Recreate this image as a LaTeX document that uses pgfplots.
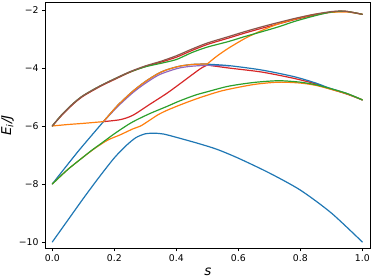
\documentclass[border=0pt]{standalone}
\usepackage{fontspec}
\setmainfont{DejaVu Sans}
\usepackage{pgfplots}
\pgfplotsset{compat=1.18}
\definecolor{C0}{HTML}{1F77B4}
\definecolor{C1}{HTML}{FF7F0E}
\definecolor{C2}{HTML}{2CA02C}
\definecolor{C3}{HTML}{D62728}
\definecolor{C4}{HTML}{9467BD}
\definecolor{C5}{HTML}{8C564B}
\begin{document}
\begin{tikzpicture}
\begin{axis}[
  scale only axis, width=325.7bp, height=245.6bp,
  xmin=-0.0235, xmax=1.027, ymin=-10.217, ymax=-1.75,
  axis line style={line width=0.8bp},
  tick style={black, line width=0.8bp}, tick align=outside, major tick length=3bp,
  xtick pos=bottom, ytick pos=left,
  xtick={0,0.2,0.4,0.6,0.8,1.0}, xticklabels={0.0,0.2,0.4,0.6,0.8,1.0},
  ytick={-10,-8,-6,-4,-2}, yticklabels={−10,−8,−6,−4,−2},
  ticklabel style={font=\fontsize{9.3bp}{11bp}\selectfont},
  xlabel={\textit{s}}, ylabel={\textit{E}\textsubscript{\textit{i}}\textit{/J}},
  xlabel style={at={(axis description cs:0.5,-0.095)}, anchor=center, font=\fontsize{13.5bp}{15bp}\selectfont},
  ylabel style={at={(axis description cs:-0.115,0.5)}, anchor=center, font=\fontsize{13.5bp}{15bp}\selectfont},
  every axis plot/.append style={line width=1.2bp, line join=round, line cap=round, smooth, tension=0.45},
]
% red top (under brown)
\addplot[C3] coordinates {(0,-6) (0.03,-5.64) (0.068,-5.24) (0.1,-4.97) (0.154,-4.64) (0.2,-4.40) (0.25,-4.15) (0.3,-3.95) (0.35,-3.80) (0.4,-3.63) (0.45,-3.40) (0.5,-3.19) (0.568,-2.97) (0.62,-2.80) (0.676,-2.63) (0.73,-2.48) (0.783,-2.33) (0.84,-2.19) (0.89,-2.09) (0.92,-2.05) (0.95,-2.05) (1,-2.15)};
% red middle
\addplot[C3] coordinates {(0.165,-5.85) (0.22,-5.78) (0.26,-5.63) (0.315,-5.25) (0.37,-4.87) (0.42,-4.48) (0.477,-4.03) (0.5,-3.9)};
\addplot[C3] coordinates {(0.5,-3.9) (0.568,-4.0) (0.675,-4.14) (0.78,-4.36) (0.85,-4.55) (0.89,-4.70) (0.95,-4.9) (1,-5.1)};
% purple
\addplot[C4] coordinates {(0.165,-5.85) (0.21,-5.34) (0.26,-4.85) (0.3,-4.53) (0.34,-4.26) (0.37,-4.13) (0.41,-4.0) (0.45,-3.94) (0.5,-3.91) (0.57,-3.93)};
% blue lower
\addplot[C0] coordinates {(0,-10) (0.05,-9.25) (0.1,-8.5) (0.15,-7.78) (0.2,-7.1) (0.24,-6.66) (0.27,-6.40) (0.3,-6.27) (0.33,-6.25) (0.36,-6.28) (0.41,-6.42) (0.47,-6.6) (0.53,-6.8) (0.6,-7.11) (0.7,-7.62) (0.8,-8.21) (0.9,-9.0) (1,-10)};
% blue upper
\addplot[C0] coordinates {(0,-8) (0.083,-6.88) (0.165,-5.85)};
\addplot[C0] coordinates {(0.165,-5.85) (0.21,-5.3) (0.26,-4.8) (0.3,-4.47) (0.34,-4.2) (0.37,-4.06) (0.41,-3.94) (0.45,-3.88) (0.5,-3.86)};
\addplot[C0] coordinates {(0.5,-3.87) (0.57,-3.92) (0.675,-4.07) (0.78,-4.30) (0.85,-4.52) (0.89,-4.68) (0.95,-4.88) (1,-5.1)};
% orange upper
\addplot[C1] coordinates {(0,-6) (0.05,-5.95) (0.1,-5.91) (0.165,-5.85)};
\addplot[C1] coordinates {(0.165,-5.85) (0.21,-5.3) (0.26,-4.8) (0.3,-4.47) (0.34,-4.2) (0.37,-4.06) (0.41,-3.94) (0.45,-3.88) (0.5,-3.86)};
\addplot[C1] coordinates {(0.5,-3.86) (0.53,-3.6) (0.568,-3.32) (0.622,-2.98) (0.675,-2.71) (0.729,-2.48) (0.783,-2.31) (0.837,-2.17) (0.89,-2.09) (0.95,-2.07) (1,-2.15)};
% orange lower
\addplot[C1] coordinates {(0,-8) (0.05,-7.5) (0.1,-7.07) (0.14,-6.75) (0.18,-6.48) (0.218,-6.31) (0.26,-6.1) (0.285,-6.0) (0.31,-5.83) (0.34,-5.62) (0.37,-5.46) (0.423,-5.23) (0.477,-5.02) (0.55,-4.78) (0.65,-4.57) (0.73,-4.49) (0.8,-4.52) (0.85,-4.6) (0.89,-4.71) (0.95,-4.89) (1,-5.1)};
% green lower
\addplot[C2] coordinates {(0,-8) (0.05,-7.5) (0.1,-7.07) (0.127,-6.84) (0.158,-6.6) (0.2,-6.27) (0.245,-5.95) (0.27,-5.8) (0.315,-5.57) (0.369,-5.33) (0.41,-5.14) (0.46,-4.94) (0.5,-4.82) (0.568,-4.63) (0.65,-4.5) (0.73,-4.44) (0.8,-4.49) (0.85,-4.58) (0.89,-4.69) (0.95,-4.88) (1,-5.1)};
% green top
\addplot[C2] coordinates {(0,-6) (0.03,-5.62) (0.068,-5.22) (0.1,-4.95) (0.154,-4.62) (0.2,-4.38) (0.25,-4.14) (0.3,-3.96) (0.35,-3.84) (0.4,-3.71) (0.45,-3.47) (0.5,-3.28) (0.568,-3.09) (0.62,-2.92) (0.676,-2.75) (0.73,-2.58) (0.783,-2.39) (0.84,-2.22) (0.89,-2.09) (0.92,-2.05) (0.95,-2.05) (1,-2.15)};
% brown
\addplot[C5] coordinates {(0,-6) (0.03,-5.62) (0.068,-5.22) (0.1,-4.95) (0.154,-4.62) (0.2,-4.38) (0.25,-4.13) (0.3,-3.93) (0.35,-3.77) (0.4,-3.58) (0.45,-3.35) (0.5,-3.14) (0.568,-2.92) (0.62,-2.75) (0.676,-2.58) (0.73,-2.43) (0.783,-2.29) (0.84,-2.16) (0.89,-2.07) (0.92,-2.04) (0.95,-2.05) (1,-2.15)};
\end{axis}
\pgfresetboundingbox
\useasboundingbox (current axis.south west) ++(-45bp,-31.7bp) rectangle ++(374bp,280bp);
\end{tikzpicture}
\end{document}
